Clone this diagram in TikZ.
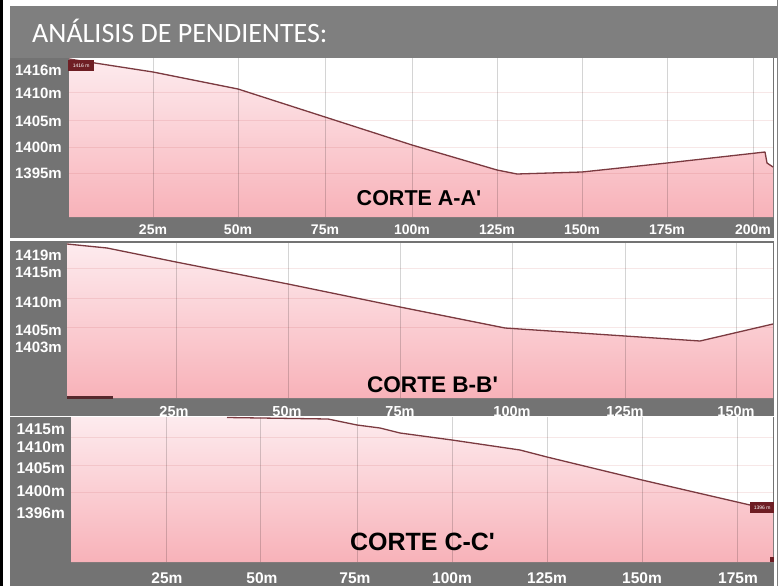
\documentclass[tikz,border=0pt]{standalone}
\usepackage{fontspec}
\setmainfont{Liberation Sans}
\newfontfamily\titlefont{Carlito}
\definecolor{panelgray}{HTML}{737373}
\definecolor{titlegray}{HTML}{7F7F7F}
\definecolor{perfil}{HTML}{7B3A40}
\definecolor{rosaclaro}{HTML}{FDEBEE}
\definecolor{rosa}{HTML}{F8B2B9}
\definecolor{marca}{HTML}{6E1E24}
\begin{document}
\begin{tikzpicture}[x=1pt, y=-1pt]
  \tikzstyle{ylab} = [anchor=east, text=white, inner sep=0pt, font=\fontsize{15}{15}\selectfont\bfseries]
  \tikzstyle{xlab} = [anchor=base, text=white, inner sep=0pt, font=\fontsize{14.5}{15}\selectfont\bfseries]
  \tikzstyle{corte} = [inner sep=0pt, font=\bfseries]
  \tikzstyle{linea} = [draw=perfil, line width=1.3pt, line join=round]
  \tikzstyle{vgrid} = [draw=black, opacity=0.17, line width=1pt]
  \tikzstyle{hgrid} = [draw=red!50!gray, opacity=0.12, line width=1pt]
  \tikzstyle{relleno} = [top color=rosaclaro, bottom color=rosa]
  \tikzstyle{marcador} = [fill=marca, text=white, inner sep=0pt, minimum height=11pt, minimum width=26pt, font=\fontsize{5}{5}\selectfont]

  \useasboundingbox[fill=white] (0,0) rectangle (781,586);
  \fill[black] (0,0) rectangle (3,586);
  \draw[gray, line width=0.8pt] (777.5,0) -- (777.5,586);

  \fill[titlegray] (10,6) rectangle (777,58);
  \node[anchor=base west, text=white, inner sep=0pt, font=\titlefont\fontsize{28}{30}\selectfont] (titulo) at (32,43) {ANÁLISIS DE PENDIENTES:};

  \begin{scope}
    \fill[panelgray] (10,58) rectangle (774,238);
    \fill[white] (69,58) rectangle (773,217);
    \shade[relleno] (69,217) -- (69,59) -- (153,72) -- (238,89) -- (325,117) -- (412,145) -- (497,170) -- (517,174)
      -- (582,172) -- (667,163) -- (765,152) -- (767,163) -- (773,167) -- (773,217) -- cycle;
    \foreach \y in {92,120,147,173}
      \draw[hgrid] (69,\y) -- (773,\y);
    \foreach \x in {153,238,325,412,497,582,667,753}
      \draw[vgrid] (\x,58) -- (\x,217);
    \draw[linea] (69,59) -- (153,72) -- (238,89) -- (325,117) -- (412,145) -- (497,170) -- (517,174)
      -- (582,172) -- (667,163) -- (765,152) -- (767,163) -- (773,167);
    \node[marcador, anchor=north west] (marcaA) at (68,60) {1416 m};
    \foreach \y/\h in {70/1416,93/1410,121/1405,147/1400,173/1395}
      \node[ylab] (ya\h) at (62,\y) {\h m};
    \foreach \x/\m in {153/25,238/50,325/75,412/100,497/125,582/150,667/175,753/200}
      \node[xlab, font=\fontsize{14}{15}\selectfont\bfseries] (xa\m) at (\x,234) {\m m};
    \node[corte, font=\fontsize{21.5}{24}\selectfont\bfseries] (corteA) at (419,198.5) {CORTE A-A\textquotesingle};
  \end{scope}

  \begin{scope}
    \fill[panelgray] (10,241) rectangle (774,416);
    \fill[white] (67,243) rectangle (773,398);
    \shade[relleno] (67,398) -- (67,244) -- (107,248) -- (176,262) -- (288,284) -- (400,307) -- (505,328)
      -- (625,336) -- (700,341) -- (773,324) -- (773,398) -- cycle;
    \foreach \y in {268,298,327}
      \draw[hgrid] (67,\y) -- (773,\y);
    \foreach \x in {176,288,400,512,625,736}
      \draw[vgrid] (\x,243) -- (\x,398);
    \draw[linea] (67,244) -- (107,248) -- (176,262) -- (288,284) -- (400,307) -- (505,328)
      -- (625,336) -- (700,341) -- (773,324);
    \fill[perfil!70!black] (67,396) rectangle (113,399);
    \foreach \y/\h in {255/1419,272/1415,302/1410,330/1405,347/1403}
      \node[ylab] (yb\h) at (62,\y) {\h m};
    \foreach \x/\m in {174/25,287/50,400/75,512/100,625/125,736/150}
      \node[xlab] (xb\m) at (\x,416.5) {\m m};
    \node[corte, font=\fontsize{22.6}{25}\selectfont\bfseries] (corteB) at (432.5,385) {CORTE B-B\textquotesingle};
  \end{scope}

  \begin{scope}
    \fill[panelgray] (10,417) rectangle (774,586);
    \fill[white] (71,417) rectangle (773,562);
    \shade[relleno] (71,562) -- (71,417) -- (227,417) -- (328,419) -- (357,425) -- (380,428) -- (400,433)
      -- (452,440) -- (520,450) -- (547,457) -- (642,480) -- (750,505) -- (773,507) -- (773,562) -- cycle;
    \foreach \y in {437,465,492}
      \draw[hgrid] (71,\y) -- (773,\y);
    \foreach \x in {166,260,357,452,547,642,737}
      \draw[vgrid] (\x,417) -- (\x,562);
    \draw[linea] (227,417.5) -- (328,419) -- (357,425) -- (380,428) -- (400,433)
      -- (452,440) -- (520,450) -- (547,457) -- (642,480) -- (750,505);
    \node[marcador, anchor=west, minimum width=24pt] (marcaC) at (750,507.5) {1396 m};
    \fill[marca] (770,557) rectangle (774,562);
    \foreach \y/\h in {429/1415,447/1410,468/1405,491/1400,513/1396}
      \node[ylab, font=\fontsize{15.5}{16}\selectfont\bfseries] (yc\h) at (65,\y) {\h m};
    \foreach \x/\m in {167/25,262/50,355/75,452/100,547/125,642/150,738/175}
      \node[xlab, font=\fontsize{15.5}{16}\selectfont\bfseries] (xc\m) at (\x,583) {\m m};
    \node[corte, font=\fontsize{25}{28}\selectfont\bfseries] (corteC) at (422.5,542) {CORTE C-C\textquotesingle};
  \end{scope}
\end{tikzpicture}
\end{document}
